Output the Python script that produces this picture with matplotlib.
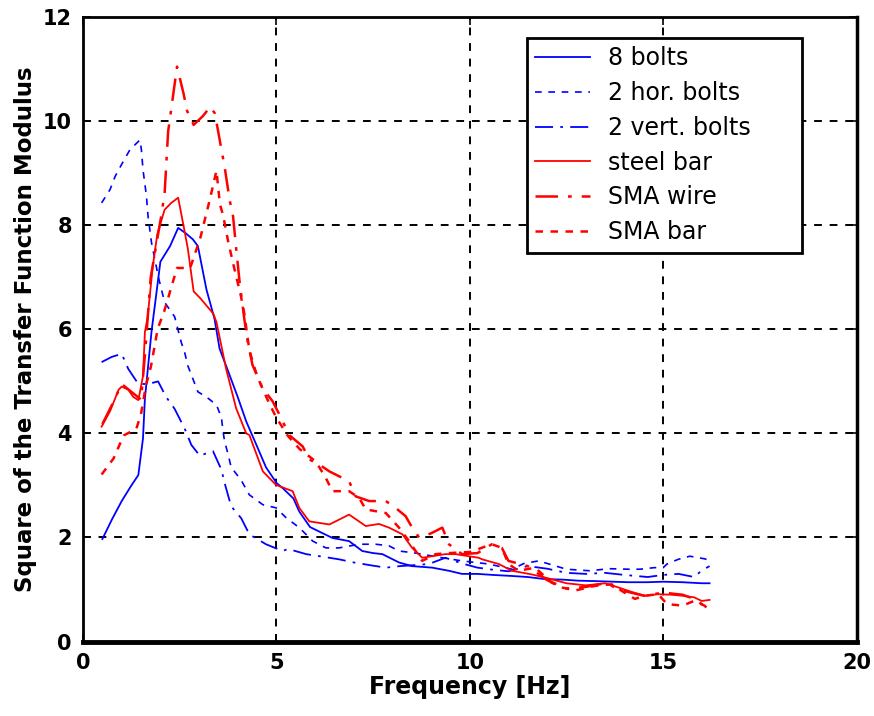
import matplotlib
matplotlib.use("Agg")
import matplotlib.pyplot as plt

# 8 bolts
x_8b = [0.5, 0.75, 1.0, 1.25, 1.43, 1.55, 1.6, 1.77, 2.0, 2.25, 2.46, 2.65, 2.84, 2.97,
        3.19, 3.4, 3.53, 3.75, 4.0, 4.22, 4.5, 4.73, 5.0, 5.16, 5.44, 5.59, 5.87, 6.2,
        6.45, 6.88, 7.22, 7.5, 7.74, 8.17, 8.5, 9.03, 9.46, 9.8, 10.2, 10.6, 11.09, 11.5,
        11.94, 12.4, 12.8, 13.3, 13.7, 14.1, 14.6, 15.0, 15.5, 16.0, 16.2]
y_8b = [1.97, 2.35, 2.7, 3.0, 3.2, 3.9, 4.67, 5.95, 7.3, 7.6, 7.95, 7.85, 7.73, 7.6,
        6.77, 6.2, 5.63, 5.2, 4.7, 4.23, 3.75, 3.35, 3.05, 2.95, 2.75, 2.5, 2.2, 2.08,
        1.99, 1.93, 1.74, 1.7, 1.68, 1.52, 1.45, 1.42, 1.36, 1.3, 1.3, 1.28, 1.26, 1.24,
        1.2, 1.19, 1.17, 1.16, 1.15, 1.14, 1.14, 1.15, 1.14, 1.12, 1.12]

# 2 horizontal bolts
x_hor = [0.48, 0.7, 0.83, 0.99, 1.21, 1.47, 1.51, 1.55, 1.64, 1.68, 1.77, 1.95, 2.11,
         2.37, 2.54, 2.63, 2.71, 2.84, 2.97, 3.19, 3.45, 3.58, 3.62, 3.66, 3.75, 3.83,
         4.09, 4.3, 4.65, 4.99, 5.25, 5.59, 5.94, 6.28, 6.62, 7.14, 7.57, 7.91, 8.17,
         8.6, 9.29, 9.8, 10.49, 11.09, 11.4, 11.78, 12.5, 13.1, 13.6, 14.1, 14.4, 14.77,
         15.0, 15.1, 15.39, 15.69, 16.07, 16.2]
y_hor = [8.43, 8.69, 8.94, 9.16, 9.45, 9.64, 9.45, 9.07, 8.56, 8.18, 7.67, 7.0, 6.52,
         6.24, 5.75, 5.55, 5.3, 5.05, 4.8, 4.7, 4.55, 4.3, 4.04, 3.85, 3.6, 3.35,
         3.1, 2.82, 2.63, 2.57, 2.38, 2.19, 1.93, 1.8, 1.8, 1.87, 1.87, 1.84, 1.74,
         1.7, 1.61, 1.55, 1.49, 1.39, 1.5, 1.55, 1.39, 1.36, 1.4, 1.39, 1.39, 1.42,
         1.42, 1.49, 1.58, 1.64, 1.59, 1.56]

# 2 vertical bolts
x_ver = [0.48, 0.74, 1.0, 1.17, 1.43, 1.69, 1.94, 2.15, 2.37, 2.63, 2.8, 3.02, 3.2,
         3.36, 3.58, 3.66, 3.83, 4.09, 4.3, 4.73, 5.16, 5.3, 5.77, 6.2, 6.62, 7.0,
         7.4, 7.83, 8.2, 8.6, 8.94, 9.37, 9.8, 10.2, 10.6, 11.0, 11.5, 12.0, 12.5,
         13.0, 13.5, 14.0, 14.6, 15.0, 15.4, 15.8, 15.99, 16.2]
y_ver = [5.37, 5.47, 5.53, 5.24, 4.95, 4.95, 5.0, 4.7, 4.47, 4.09, 3.78, 3.57, 3.62,
         3.66, 3.3, 3.05, 2.6, 2.37, 2.06, 1.87, 1.74, 1.78, 1.68, 1.63, 1.58, 1.52,
         1.47, 1.42, 1.45, 1.47, 1.49, 1.61, 1.5, 1.42, 1.38, 1.35, 1.45, 1.4, 1.32,
         1.3, 1.32, 1.28, 1.24, 1.28, 1.3, 1.24, 1.36, 1.45]

# steel bar
x_stl = [0.48, 0.7, 0.92, 1.0, 1.17, 1.3, 1.43, 1.55, 1.6, 1.67, 1.8, 1.92, 2.11, 2.28,
         2.46, 2.63, 2.71, 2.86, 3.03, 3.37, 3.45, 3.7, 3.96, 4.22, 4.3, 4.65, 4.99,
         5.42, 5.59, 5.85, 6.37, 6.88, 7.31, 7.65, 7.91, 8.26, 8.51, 8.77, 9.37, 9.63,
         10.23, 10.32, 10.75, 11.09, 11.6, 12.0, 12.5, 13.0, 13.5, 13.84, 14.2, 14.53,
         14.87, 15.2, 15.5, 15.8, 16.0, 16.2]
y_stl = [4.13, 4.43, 4.84, 4.9, 4.84, 4.7, 4.64, 5.1, 5.95, 6.23, 7.19, 7.83, 8.3, 8.43,
         8.53, 7.87, 7.55, 6.73, 6.6, 6.3, 6.14, 5.24, 4.48, 4.0, 3.97, 3.27, 3.01,
         2.89, 2.57, 2.31, 2.25, 2.44, 2.22, 2.26, 2.19, 2.06, 1.8, 1.61, 1.68, 1.68,
         1.61, 1.58, 1.49, 1.36, 1.29, 1.22, 1.12, 1.08, 1.12, 1.04, 0.95, 0.88,
         0.91, 0.9, 0.88, 0.85, 0.78, 0.8]

# SMA wire
x_wir = [0.5, 0.75, 1.0, 1.25, 1.5, 1.6, 1.75, 2.02, 2.11, 2.2, 2.33, 2.43, 2.6, 2.69,
         2.86, 3.1, 3.29, 3.41, 3.58, 3.66, 3.79, 3.88, 3.96, 4.05, 4.17, 4.26, 4.38,
         4.64, 4.9, 5.08, 5.33, 5.68, 5.85, 6.11, 6.37, 6.88, 7.05, 7.4, 7.83, 8.08,
         8.34, 8.51, 8.69, 9.0, 9.29, 9.46, 9.8, 10.2, 10.57, 10.83, 11.0, 11.5, 12.0,
         12.5, 13.0, 13.5, 14.0, 14.5, 15.0, 15.5, 15.8, 16.0, 16.2]
y_wir = [4.18, 4.55, 4.95, 4.8, 4.65, 5.5, 7.0, 8.17, 8.62, 9.8, 10.5, 11.05, 10.53, 10.2,
         9.93, 10.1, 10.28, 10.15, 9.45, 9.13, 8.49, 8.17, 7.55, 6.9, 6.2, 5.76, 5.32,
         4.87, 4.62, 4.36, 3.97, 3.75, 3.5, 3.4, 3.27, 3.08, 2.79, 2.7, 2.7, 2.57,
         2.41, 2.19, 2.0, 2.08, 2.19, 1.87, 1.68, 1.7, 1.87, 1.8, 1.55, 1.45, 1.18,
         1.02, 1.05, 1.12, 0.97, 0.88, 0.94, 0.9, 0.82, 0.72, 0.65]

# SMA bar
x_bar = [0.48, 0.79, 1.05, 1.38, 1.5, 1.63, 1.76, 1.93, 2.1, 2.43, 2.77, 3.03, 3.28,
         3.45, 3.54, 3.62, 3.75, 3.87, 4.08, 4.17, 4.3, 4.5, 4.8, 5.0, 5.3, 5.6, 6.02,
         6.28, 6.45, 6.88, 7.14, 7.31, 7.83, 8.17, 8.43, 8.77, 9.12, 9.46, 10.0, 10.57,
         10.83, 11.0, 11.26, 11.69, 12.12, 12.38, 12.72, 13.24, 13.67, 14.0, 14.27,
         14.53, 14.87, 15.1, 15.5, 15.8, 16.07, 16.2]
y_bar = [3.21, 3.52, 3.96, 4.09, 4.38, 4.93, 5.3, 6.01, 6.35, 7.18, 7.18, 7.75, 8.5,
         9.05, 8.4, 8.2, 7.7, 7.3, 6.65, 6.3, 5.6, 5.1, 4.6, 4.3, 3.95, 3.7, 3.46,
         3.14, 2.89, 2.89, 2.76, 2.54, 2.47, 2.19, 1.93, 1.55, 1.68, 1.7, 1.72, 1.87,
         1.8, 1.49, 1.36, 1.42, 1.13, 1.04, 0.98, 1.07, 1.1, 0.94, 0.82,
         0.88, 0.91, 0.72, 0.69, 0.78, 0.69, 0.59]

x_ticks = [0, 5, 10, 15, 20]
y_ticks = [0, 2, 4, 6, 8, 10, 12]

plt.rcParams['font.family'] = ['DejaVu Sans']

fig = plt.figure(figsize=(8.74, 7.16), dpi=100)
ax = fig.add_axes([0.095, 0.104, 0.885, 0.872])

blue = (0, 0, 1)
red = (1, 0, 0)
ax.plot(x_8b, y_8b, color=blue, lw=1.3, ls='-', label='8 bolts')
ax.plot(x_hor, y_hor, color=blue, lw=1.2, ls=(0, (4, 4)), label='2 hor. bolts')
ax.plot(x_ver, y_ver, color=blue, lw=1.3, ls=(0, (10, 4, 1.5, 4)), label='2 vert. bolts')
ax.plot(x_stl, y_stl, color=red, lw=1.3, ls='-', label='steel bar')
ax.plot(x_wir, y_wir, color=red, lw=1.8, ls=(0, (9, 4, 1.5, 4)), label='SMA wire')
ax.plot(x_bar, y_bar, color=red, lw=1.8, ls=(0, (3, 3)), label='SMA bar')

ax.set_xlim(0, 20)
ax.set_ylim(0, 12)
ax.set_xticks(x_ticks)
ax.set_yticks(y_ticks)
ax.grid(True, color='black', ls=(0, (4, 4)), lw=1.4)
ax.tick_params(direction='in', length=6, width=1.2, labelsize=15, pad=8, top=True, right=True)
for lab in ax.get_xticklabels() + ax.get_yticklabels():
    lab.set_fontweight('bold')

ax.spines['bottom'].set_linewidth(3.5)
ax.spines['right'].set_linewidth(2.5)
ax.spines['top'].set_linewidth(2.0)
ax.spines['left'].set_linewidth(2.0)

ax.set_xlabel('Frequency [Hz]', fontsize=17, fontweight='bold', labelpad=2)
ax.set_ylabel('Square of the Transfer Function Modulus', fontsize=16.5, fontweight='bold', labelpad=4)

leg = ax.legend(loc='upper left', bbox_to_anchor=(0.574, 0.616, 0.356, 0.351), mode='expand',
                fontsize=17, frameon=True, fancybox=False, edgecolor='black', framealpha=1,
                handlelength=2.3, labelspacing=0.46, borderpad=0.35, handletextpad=0.8,
                borderaxespad=0)
leg.get_frame().set_linewidth(2.0)

fig.savefig('out.png', dpi=100)
